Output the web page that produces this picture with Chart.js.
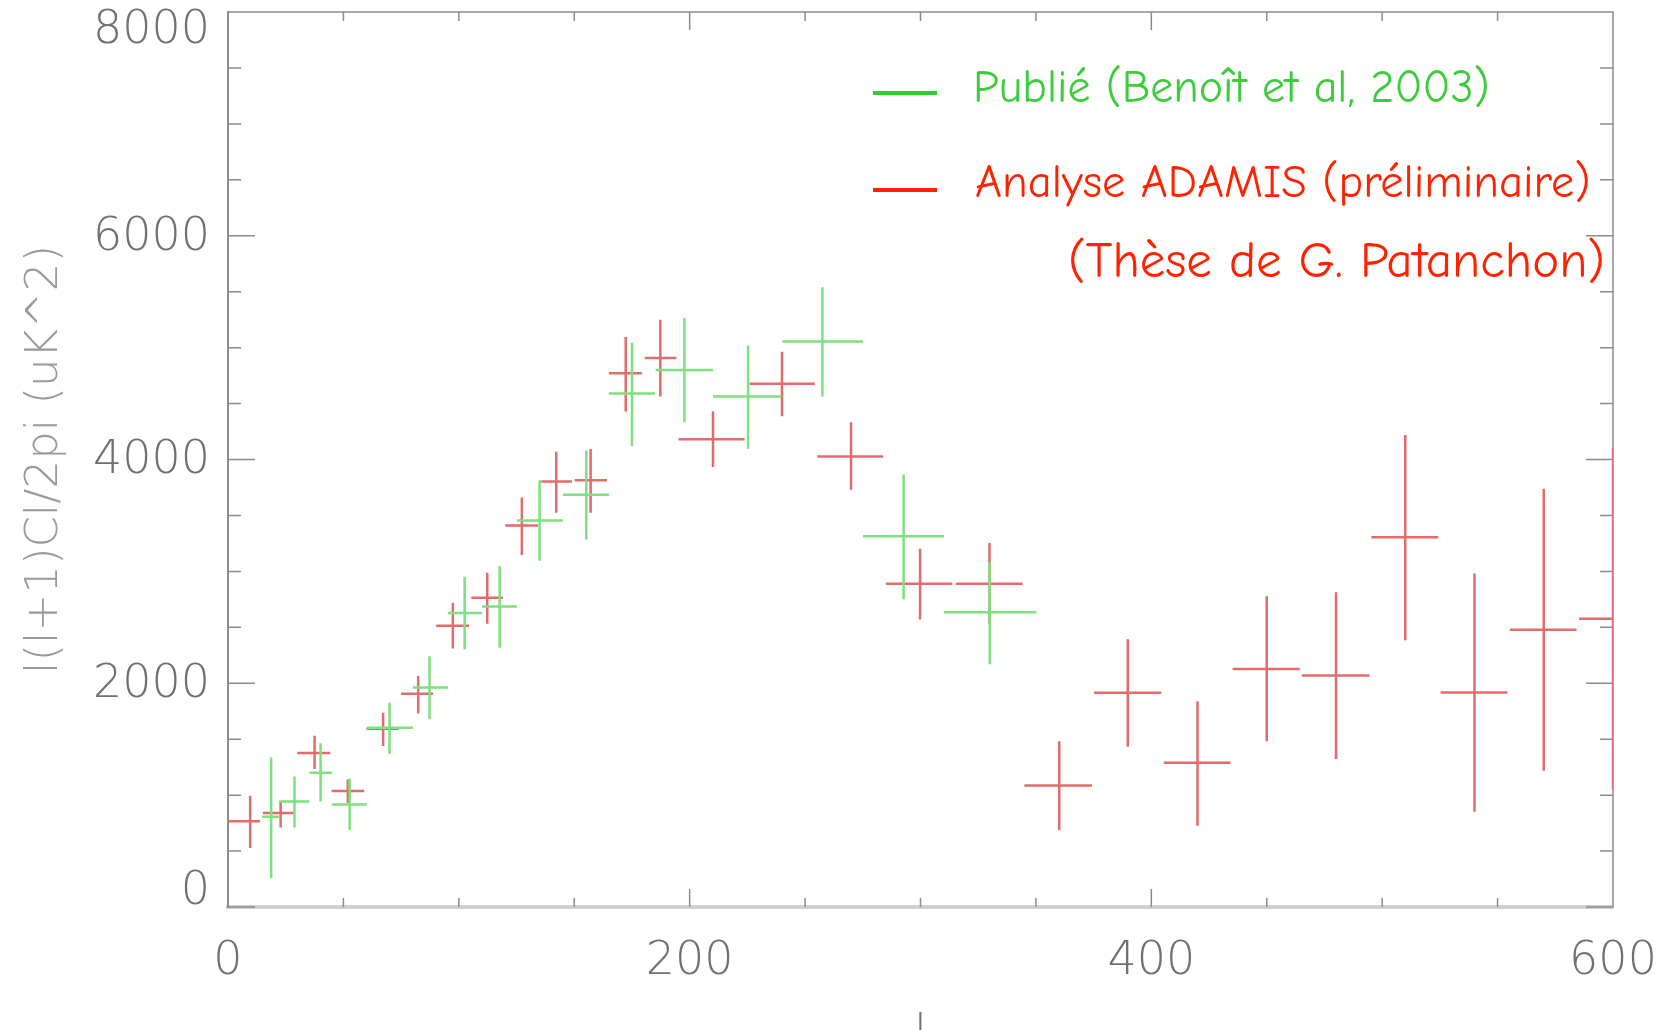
<!DOCTYPE html>
<html>
<head>
<meta charset="utf-8">
<script src="https://cdn.jsdelivr.net/npm/chart.js@4.4.1/dist/chart.umd.min.js"></script>
<style>
html, body { margin: 0; padding: 0; background: #fff; }
</style>
</head>
<body>
<canvas id="myChart" width="1666" height="1030"></canvas>
<script>
// Publié (Benoît et al, 2003) - green crosses
var gL    = [18.7, 28.8, 40.1, 52.7, 70.0, 87.3, 102.5, 117.7, 135.0, 155.2, 175.0, 197.7, 225.3, 257.5, 292.7, 330.0];
var gLmin = [14.8, 22.3, 35.3, 45.0, 60.2, 80.1, 95.3, 110.1, 125.2, 145.1, 165.0, 185.3, 210.1, 240.2, 275.1, 310.2];
var gLmax = [22.3, 35.3, 45.1, 60.2, 80.1, 95.3, 110.1, 125.2, 145.1, 165.0, 185.0, 210.1, 239.7, 275.1, 310.2, 350.2];
var gCl   = [807, 943, 1200, 916, 1603, 1962, 2628, 2686, 3455, 3684, 4589, 4801, 4563, 5054, 3313, 2634];
var gLo   = [260, 711, 943, 687, 1370, 1678, 2303, 2317, 3096, 3284, 4121, 4333, 4095, 4563, 2750, 2170];
var gHi   = [1336, 1166, 1463, 1148, 1825, 2242, 2953, 3045, 3814, 4080, 5044, 5265, 5018, 5539, 3866, 3083];

// Analyse ADAMIS (préliminaire) - red crosses
var rL    = [9.6, 22.8, 37.5, 51.9, 67.2, 82.4, 97.4, 112.3, 127.3, 142.2, 157.1, 172.3, 187.3, 210.1, 240.0, 269.9, 299.8, 329.9, 360.1, 389.8, 420.0, 450.0, 480.0, 510.0, 540.0, 570.0, 600.0];
var rLmin = [0, 15.1, 30.0, 44.9, 60.0, 75.0, 90.2, 105.4, 120.1, 135.7, 150.2, 165.0, 180.5, 195.2, 226.0, 255.3, 285.0, 315.3, 345.0, 375.2, 405.4, 435.2, 465.2, 495.3, 525.3, 555.3, 585.3];
var rLmax = [13.9, 28.5, 44.3, 59.0, 74.0, 88.8, 104.4, 119.1, 134.3, 149.0, 164.2, 179.3, 194.2, 223.8, 254.2, 283.8, 313.8, 344.2, 374.3, 404.3, 434.3, 464.3, 494.5, 524.3, 554.3, 584.2, 614.7];
var rCl   = [766, 841, 1377, 1036, 1593, 1907, 2515, 2765, 3410, 3803, 3814, 4770, 4908, 4182, 4676, 4027, 2890, 2890, 1087, 1914, 1289, 2128, 2069, 3304, 1917, 2479, 2577];
var rLo   = [527, 711, 1234, 930, 1439, 1729, 2310, 2532, 3147, 3523, 3523, 4429, 4563, 3932, 4387, 3729, 2569, 2533, 688, 1432, 726, 1482, 1322, 2384, 851, 1217, 1051];
var rHi   = [995, 943, 1531, 1140, 1736, 2064, 2720, 2987, 3660, 4070, 4094, 5095, 5250, 4432, 4964, 4333, 3203, 3253, 1482, 2393, 1839, 2777, 2813, 4220, 2982, 3738, 4104];

var xTicks = [0, 200, 400, 600];
var yTicks = [0, 2000, 4000, 6000, 8000];

var greenLabel = "Publié (Benoît et al, 2003)";
var redLabel = "Analyse ADAMIS (préliminaire)";
var redNote = "(Thèse de G. Patanchon)";

// one horizontal + one vertical segment per point, broken by nulls
function crosses(L, Lmin, Lmax, C, lo, hi) {
    var pts = [];
    for (var i = 0; i < L.length; i++) {
        pts.push({x: Lmin[i], y: C[i]}, {x: Lmax[i], y: C[i]}, {x: L[i], y: null});
        pts.push({x: L[i], y: lo[i]}, {x: L[i], y: hi[i]}, {x: L[i], y: null});
    }
    return pts;
}

var tickFont = '200 46px "DejaVu Sans", sans-serif';
var handFont = '"Comic Sans MS", "Comic Neue", Lato, sans-serif';

var framePlugin = {
    id: "frame",
    beforeDatasetsDraw: function (chart) {
        var ctx = chart.ctx, a = chart.chartArea;
        var xs = chart.scales.x, ys = chart.scales.y;
        ctx.save();
        ctx.strokeStyle = "#8c8c8c";
        ctx.lineWidth = 1.5;
        ctx.beginPath();
        ctx.moveTo(a.left, a.top); ctx.lineTo(a.right, a.top); ctx.lineTo(a.right, a.bottom);
        for (var v = xs.min; v <= xs.max; v += 50) {
            var px = xs.getPixelForValue(v);
            var len = v % 200 === 0 ? 18 : 9;
            ctx.moveTo(px, a.bottom); ctx.lineTo(px, a.bottom - len);
            ctx.moveTo(px, a.top); ctx.lineTo(px, a.top + len);
        }
        for (var w = ys.min; w <= ys.max; w += 500) {
            var py = ys.getPixelForValue(w);
            var l2 = w % 2000 === 0 ? 27 : 13;
            ctx.moveTo(a.left, py); ctx.lineTo(a.left + l2, py);
            ctx.moveTo(a.right, py); ctx.lineTo(a.right - l2, py);
        }
        ctx.stroke();
        // y tick labels, kept inside the frame at the ends
        ctx.font = tickFont;
        ctx.fillStyle = "#707070";
        ctx.textAlign = "right";
        ctx.textBaseline = "middle";
        yTicks.forEach(function (t) {
            var py = ys.getPixelForValue(t);
            py = Math.min(Math.max(py, a.top + 17), a.bottom - 17);
            ctx.fillText(String(t), a.left - 18, py + 2);
        });
        ctx.restore();
    },
    afterDraw: function (chart) {
        var ctx = chart.ctx, a = chart.chartArea;
        ctx.save();
        ctx.lineWidth = 4;
        ctx.strokeStyle = "#33cc33";
        ctx.beginPath(); ctx.moveTo(a.right - 740, 93); ctx.lineTo(a.right - 676, 93); ctx.stroke();
        ctx.strokeStyle = "#ff2200";
        ctx.beginPath(); ctx.moveTo(a.right - 740, 190); ctx.lineTo(a.right - 676, 190); ctx.stroke();
        ctx.textBaseline = "alphabetic";
        ctx.font = "46px " + handFont;
        ctx.fillStyle = "#3ccc3c";
        ctx.textAlign = "left";
        ctx.fillText(greenLabel, a.right - 640, 102);
        ctx.fillStyle = "#ff2200";
        ctx.font = "46.5px " + handFont;
        ctx.fillText(redLabel, a.right - 638, 197);
        ctx.font = "51px " + handFont;
        ctx.textAlign = "right";
        ctx.fillText(redNote, a.right - 8, 277);
        ctx.restore();
    }
};

var chart = new Chart(document.getElementById("myChart").getContext("2d"), {
    type: "scatter",
    data: {
        datasets: [{
            label: greenLabel,
            data: crosses(gL, gLmin, gLmax, gCl, gLo, gHi),
            showLine: true,
            spanGaps: false,
            borderColor: "#7fe07f",
            borderWidth: 2.5,
            pointRadius: 0
        }, {
            label: redLabel,
            data: crosses(rL, rLmin, rLmax, rCl, rLo, rHi),
            showLine: true,
            spanGaps: false,
            borderColor: "#e26b6b",
            borderWidth: 2.5,
            pointRadius: 0
        }]
    },
    options: {
        responsive: false,
        animation: false,
        layout: { padding: { left: 0, right: 53, top: 12, bottom: 0 } },
        plugins: {
            legend: { display: false },
            tooltip: { enabled: false }
        },
        scales: {
            x: {
                type: "linear",
                position: "bottom",
                min: 0,
                max: 600,
                afterFit: function (s) { s.height = 123; s.paddingLeft = 0; s.paddingRight = 0; },
                afterBuildTicks: function (s) { s.ticks = xTicks.map(function (v) { return {value: v}; }); },
                grid: { display: false, drawTicks: false },
                border: { display: true, color: "#d0d0d0", width: 4 },
                ticks: { color: "#707070", font: { family: "DejaVu Sans", size: 46, weight: 200 }, padding: 27, maxRotation: 0 },
                title: {
                    display: true,
                    text: "l",
                    color: "#707070",
                    font: { family: "DejaVu Sans", size: 45, weight: 200 },
                    padding: { top: 0, bottom: -31 }
                }
            },
            y: {
                type: "linear",
                min: 0,
                max: 8000,
                afterFit: function (s) { s.width = 228; },
                afterBuildTicks: function (s) { s.ticks = yTicks.map(function (v) { return {value: v}; }); },
                grid: { display: false, drawTicks: false },
                border: { display: true, color: "#8c8c8c", width: 2 },
                ticks: { display: false },
                title: {
                    display: true,
                    text: "l(l+1)Cl/2pi (uK^2)",
                    color: "#9a9a9a",
                    font: { family: "DejaVu Sans", size: 45, weight: 200 },
                    padding: { top: 18, bottom: 0 }
                }
            }
        }
    },
    plugins: [framePlugin]
});
</script>
</body>
</html>
